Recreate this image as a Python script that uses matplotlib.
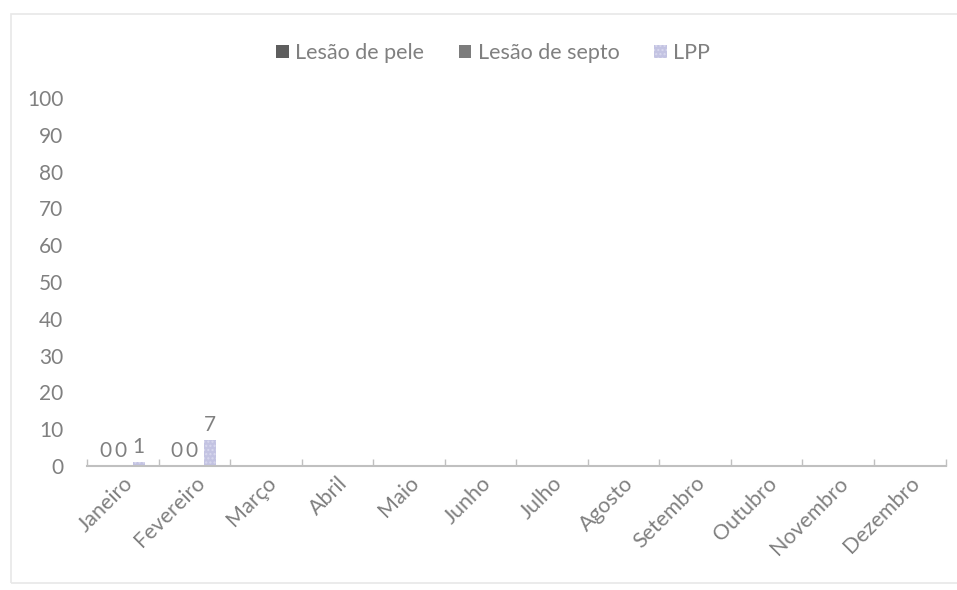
import numpy as np
import matplotlib.pyplot as plt
from matplotlib.patches import Rectangle

plt.rcParams['font.family'] = ['Lato', 'DejaVu Sans']

meses = ['Janeiro', 'Fevereiro', 'Março', 'Abril', 'Maio', 'Junho',
         'Julho', 'Agosto', 'Setembro', 'Outubro', 'Novembro', 'Dezembro']
series_names = ['Lesão de pele', 'Lesão de septo', 'LPP']
lesao_pele = [0, 0] + [np.nan] * 10
lesao_septo = [0, 0] + [np.nan] * 10
lpp = [1, 7] + [np.nan] * 10

cores = ['#5e5e5e', '#7c7c7c', '#c3c3e2']
txt = '#808080'

fig = plt.figure(figsize=(9.57, 5.90), dpi=100)
ax = fig.add_axes([0.091, 0.21, 0.897, 0.624])

x = np.arange(len(meses))
offsets = [-0.25, -0.04, 0.22]
w = 0.17
for vals, off, cor, nome in zip([lesao_pele, lesao_septo, lpp], offsets, cores, series_names):
    v = np.array(vals, dtype=float)
    ax.bar(x + off, np.nan_to_num(v), w, color=cor, label=nome,
           hatch='....' if nome == 'LPP' else None,
           edgecolor='#d8d8ee' if nome == 'LPP' else cor, linewidth=0)
    for xi, vi in zip(x + off, v):
        if not np.isnan(vi):
            ax.text(xi, vi + 1.5, '%d' % vi, ha='center', va='bottom', fontsize=15, color=txt)

ax.set_xlim(-0.5, len(meses) - 0.5)
ax.set_ylim(0, 100)
ax.set_yticks(np.arange(0, 101, 10))
ax.tick_params(axis='y', length=0, labelsize=15, labelcolor=txt, pad=17)

ax.set_xticks(x)
ax.set_xticklabels(meses, rotation=45, ha='right', rotation_mode='anchor')
ax.tick_params(axis='x', which='major', length=0, labelsize=15.5, labelcolor=txt, pad=5)
ax.set_xticks(np.arange(-0.5, len(meses)), minor=True)
ax.tick_params(axis='x', which='minor', direction='in', length=5, color='#c0c0c0', width=1)

for s in ['top', 'right', 'left']:
    ax.spines[s].set_visible(False)
ax.spines['bottom'].set_color('#c0c0c0')
ax.spines['bottom'].set_linewidth(1.5)

leg = fig.legend(loc='center', bbox_to_anchor=(493 / 957, 1 - 53 / 590), ncol=3, frameon=False,
                 fontsize=15.5, handlelength=0.6, handleheight=0.6, handletextpad=0.3,
                 columnspacing=1.6)
for t in leg.get_texts():
    t.set_color(txt)

fig.patches.append(Rectangle((0.011, 0.012), 1.2, 0.965, transform=fig.transFigure,
                             fill=False, edgecolor='#e8e8e8', linewidth=1.2))

fig.savefig('out.png', dpi=100)
